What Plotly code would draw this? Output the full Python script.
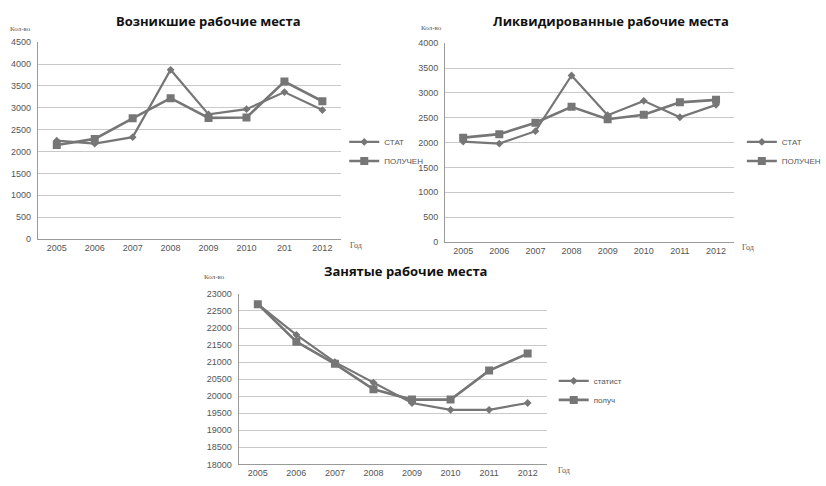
import plotly.graph_objects as go

W, H = 826, 486

# Data
years = ["2005", "2006", "2007", "2008", "2009", "2010", "2011", "2012"]
years_top_left = ["2005", "2006", "2007", "2008", "2009", "2010", "201", "2012"]

created_stat = [2250, 2180, 2330, 3870, 2850, 2970, 3360, 2950]
created_model = [2150, 2290, 2760, 3220, 2770, 2780, 3600, 3150]

liquidated_stat = [2020, 1980, 2230, 3350, 2550, 2840, 2510, 2760]
liquidated_model = [2100, 2170, 2400, 2720, 2470, 2560, 2810, 2860]

occupied_stat = [22700, 21800, 21000, 20400, 19800, 19600, 19600, 19800]
occupied_model = [22700, 21600, 20950, 20200, 19900, 19900, 20750, 21250]

LINE = "#767676"
GRID = "#c9c9c9"
TEXT = "#555555"
NARROW = "Liberation Sans Narrow, Arial Narrow, Liberation Sans"
TICKFONT = dict(family=NARROW, size=9, color=TEXT)
SERIF = "Liberation Serif, DejaVu Serif"


def fx(px):
    return px / W


def fy(py):
    return 1 - py / H


fig = go.Figure()

panels = [
    dict(ax="", x=years_top_left, s1=created_stat, s2=created_model,
         n1="СТАТ", n2="ПОЛУЧЕН", leg="legend",
         xd=(39, 352), yd=(38, 239), yr=(0, 4500), dt=500),
    dict(ax="2", x=years, s1=liquidated_stat, s2=liquidated_model,
         n1="СТАТ", n2="ПОЛУЧЕН", leg="legend2",
         xd=(459, 757), yd=(39, 242), yr=(0, 4000), dt=500),
    dict(ax="3", x=years, s1=occupied_stat, s2=occupied_model,
         n1="статист", n2="получ", leg="legend3",
         xd=(246, 564), yd=(295, 469), yr=(18000, 23000), dt=500),
]

for p in panels:
    xa = "x" + p["ax"]
    ya = "y" + p["ax"]
    fig.add_trace(go.Scatter(
        x=p["x"], y=p["s1"], name=p["n1"], mode="lines+markers",
        line=dict(color=LINE, width=2.2),
        marker=dict(symbol="diamond", size=6, color=LINE),
        xaxis=xa, yaxis=ya, legend=p["leg"]))
    fig.add_trace(go.Scatter(
        x=p["x"], y=p["s2"], name=p["n2"], mode="lines+markers",
        line=dict(color=LINE, width=2.6),
        marker=dict(symbol="square", size=8, color=LINE),
        xaxis=xa, yaxis=ya, legend=p["leg"]))

    xkey = "xaxis" + p["ax"]
    ykey = "yaxis" + p["ax"]
    fig.layout[xkey] = dict(
        domain=[fx(p["xd"][0]), fx(p["xd"][1])],
        anchor=ya, type="category", range=[-0.5, 7.5],
        showgrid=False, showline=True, linecolor="#9a9a9a", linewidth=1,
        ticks="", tickfont=TICKFONT, fixedrange=True)
    fig.layout[ykey] = dict(
        domain=[fy(p["yd"][1]), fy(p["yd"][0])],
        anchor=xa, range=list(p["yr"]), dtick=p["dt"], tickformat="d",
        showgrid=True, gridcolor=GRID, gridwidth=1.3,
        showline=True, linecolor="#9a9a9a", linewidth=1,
        zeroline=False, ticks="", ticklabelstandoff=4,
        tickfont=TICKFONT, fixedrange=True)

legend_style = dict(
    bgcolor="rgba(0,0,0,0)", borderwidth=0,
    font=dict(family=NARROW, size=8, color=TEXT),
    itemwidth=30, tracegroupgap=0, xanchor="left", yanchor="top")

fig.update_layout(
    legend=dict(x=fx(355), y=fy(125), **legend_style),
    legend2=dict(x=fx(765), y=fy(125), **legend_style),
    legend3=dict(x=fx(571), y=fy(369), **legend_style),
)

titles = [
    ("Возникшие рабочие места", 215, 16),
    ("Ликвидированные рабочие места", 630, 16),
    ("Занятые рабочие места", 418, 272),
]
for text, x, y in titles:
    fig.add_annotation(text="<b>" + text + "</b>", x=fx(x), y=fy(y),
                       xref="paper", yref="paper",
                       showarrow=False, xanchor="center", yanchor="middle",
                       font=dict(family="Open Sans", size=13, color="#111111"))

axis_labels = [
    ("Кол-во", 21, 24), ("Год", 367, 246),
    ("Кол-во", 445, 23), ("Год", 771, 248),
    ("Кол-во", 221, 278), ("Год", 582, 475),
]
for text, x, y in axis_labels:
    fig.add_annotation(text=text, x=fx(x), y=fy(y), xref="paper", yref="paper",
                       showarrow=False, xanchor="center", yanchor="middle",
                       font=dict(family=SERIF, size=7 if text == "Кол-во" else 8, color=TEXT))

fig.update_layout(
    width=W, height=H, margin=dict(l=0, r=0, t=0, b=0),
    paper_bgcolor="white", plot_bgcolor="white",
    showlegend=True,
)

fig.write_html("out.html")
